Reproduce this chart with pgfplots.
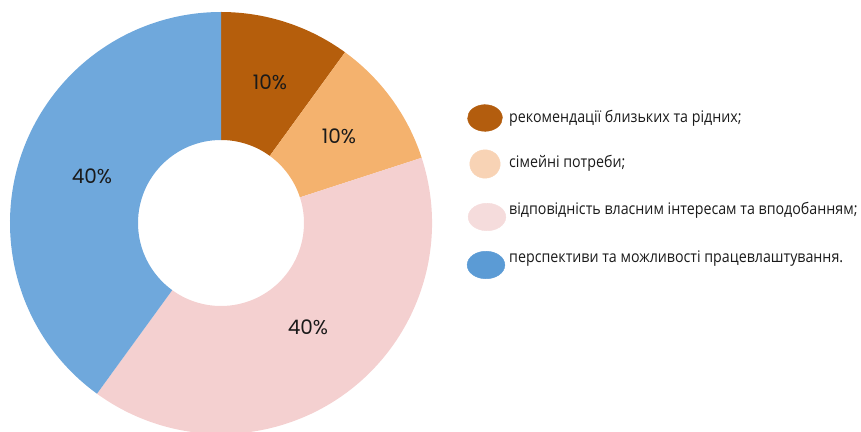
\documentclass[border=0pt]{standalone}
\usepackage{fontspec}
\setmainfont{Open Sans}[FakeStretch=0.89]
\newfontfamily\pctfont{Poppins}
\usepackage{pgfplots}
\usepackage{pgfplotstable}
\pgfplotsset{compat=1.18}

\definecolor{cBrown}{HTML}{B55E0C}
\definecolor{cOrange}{HTML}{F4B26E}
\definecolor{cPink}{HTML}{F4D0D0}
\definecolor{cBlue}{HTML}{6FA8DC}
\definecolor{lBrown}{HTML}{B35D0E}
\definecolor{lOrange}{HTML}{F8D3B5}
\definecolor{lPink}{HTML}{F5DCDC}
\definecolor{lBlue}{HTML}{5B9BD5}
\definecolor{txt}{HTML}{1A1A1A}

% share in %, slice colour, label position
\pgfplotstableread{
share color labx laby
10 cBrown 270 349
10 cOrange 339 295
40 cPink 308 104
40 cBlue 92 255
}\slices

\def\cx{221}\def\cy{208}\def\rout{211}\def\rin{83}

\begin{document}
\begin{tikzpicture}
\begin{axis}[
    x=1pt, y=1pt,
    xmin=0, xmax=861, ymin=0, ymax=431,
    hide axis,
    clip=false,
]
\xdef\angstart{90}
\pgfplotsinvokeforeach{0,1,2,3}{
    \pgfplotstablegetelem{#1}{share}\of\slices \let\v=\pgfplotsretval
    \pgfplotstablegetelem{#1}{color}\of\slices \let\c=\pgfplotsretval
    \pgfplotstablegetelem{#1}{labx}\of\slices \let\xl=\pgfplotsretval
    \pgfplotstablegetelem{#1}{laby}\of\slices \let\yl=\pgfplotsretval
    \pgfmathsetmacro\angend{\angstart-3.6*\v}
    \pgfmathsetmacro\xa{\cx+\rout*cos(\angstart)}
    \pgfmathsetmacro\ya{\cy+\rout*sin(\angstart)}
    \pgfmathsetmacro\xb{\cx+\rin*cos(\angend)}
    \pgfmathsetmacro\yb{\cy+\rin*sin(\angend)}
    \pgfmathtruncatemacro\vi{\v}
    \edef\tmp{\noexpand\fill[\c] (axis cs:\xa,\ya) arc[start angle=\angstart, end angle=\angend, radius=\rout pt]
        -- (axis cs:\xb,\yb) arc[start angle=\angend, end angle=\angstart, radius=\rin pt] -- cycle;
        \noexpand\node[font=\noexpand\pctfont\noexpand\fontsize{20}{24}\noexpand\selectfont, text=txt] at (axis cs:\xl,\yl) {\vi\noexpand\%};}
    \tmp
    \xdef\angstart{\angend}
}

% legend blobs
\addplot[only marks, mark=*, mark size=14.5pt, lBrown, mark options={xscale=1.2, yscale=0.92, rotate=25}] coordinates {(485,313)};
\addplot[only marks, mark=*, mark size=14.5pt, lOrange, mark options={xscale=1.05, yscale=0.98, rotate=25}] coordinates {(485,267)};
\addplot[only marks, mark=*, mark size=14.5pt, lPink, mark options={xscale=1.3, yscale=0.95, rotate=65}] coordinates {(487,214)};
\addplot[only marks, mark=*, mark size=14.5pt, lBlue, mark options={xscale=1.3, yscale=0.95, rotate=55}] coordinates {(486,166)};

\begin{scope}[every node/.style={anchor=west, text=txt, font=\fontsize{16}{19}\selectfont, inner sep=0pt}]
\node at (axis cs:509,313) {рекомендації близьких та рідних;};
\node at (axis cs:509,268) {сімейні потреби;};
\node at (axis cs:509,221) {відповідність власним інтересам та вподобанням;};
\node at (axis cs:509,172) {перспективи та можливості працевлаштування.};
\end{scope}
\end{axis}
\pgfresetboundingbox
\path (current axis.south west) rectangle (current axis.north east);
\end{tikzpicture}
\end{document}
